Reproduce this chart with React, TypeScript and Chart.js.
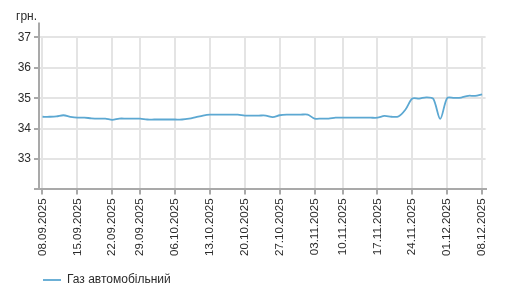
import React, { useEffect, useRef } from 'react';
import { Chart, registerables } from 'chart.js';

Chart.register(...registerables);

const dates = [
  '08.09.2025', '09.09.2025', '10.09.2025', '11.09.2025', '12.09.2025',
  '15.09.2025', '16.09.2025', '17.09.2025', '18.09.2025', '19.09.2025',
  '22.09.2025', '23.09.2025', '24.09.2025', '25.09.2025',
  '29.09.2025', '30.09.2025', '01.10.2025', '02.10.2025', '03.10.2025',
  '06.10.2025', '07.10.2025', '08.10.2025', '09.10.2025', '10.10.2025',
  '13.10.2025', '14.10.2025', '15.10.2025', '16.10.2025', '17.10.2025',
  '20.10.2025', '21.10.2025', '22.10.2025', '23.10.2025', '24.10.2025',
  '27.10.2025', '28.10.2025', '29.10.2025', '30.10.2025', '31.10.2025',
  '03.11.2025', '04.11.2025', '05.11.2025', '06.11.2025',
  '10.11.2025', '11.11.2025', '12.11.2025', '13.11.2025', '14.11.2025',
  '17.11.2025', '18.11.2025', '19.11.2025', '20.11.2025', '21.11.2025',
  '24.11.2025', '25.11.2025', '26.11.2025', '27.11.2025', '28.11.2025',
  '01.12.2025', '02.12.2025', '03.12.2025', '04.12.2025', '05.12.2025',
  '08.12.2025',
];

const prices = [
  34.39, 34.39, 34.40, 34.44, 34.39,
  34.36, 34.36, 34.34, 34.33, 34.33,
  34.29, 34.33, 34.33, 34.33,
  34.33, 34.30, 34.30, 34.30, 34.30,
  34.30, 34.30, 34.33, 34.38, 34.43,
  34.46, 34.46, 34.46, 34.46, 34.46,
  34.43, 34.43, 34.43, 34.43, 34.38,
  34.44, 34.46, 34.46, 34.46, 34.46,
  34.33, 34.33, 34.33, 34.36,
  34.36, 34.36, 34.36, 34.36, 34.36,
  34.36, 34.42, 34.39, 34.40, 34.62,
  34.99, 34.99, 35.03, 34.98, 34.32,
  35.01, 35.01, 35.02, 35.08, 35.08,
  35.13,
];

const tickDates = [
  '08.09.2025', '15.09.2025', '22.09.2025', '29.09.2025', '06.10.2025',
  '13.10.2025', '20.10.2025', '27.10.2025', '03.11.2025', '10.11.2025',
  '17.11.2025', '24.11.2025', '01.12.2025', '08.12.2025',
];

const seriesName = 'Газ автомобільний';
const unitLabel = 'грн.';
const yMin = 32;
const yMax = 37;

export default function App() {
  const ref = useRef<HTMLCanvasElement>(null);

  useEffect(() => {
    if (!ref.current) return;
    const axisColor = '#a9a9a9';
    const gridColor = '#e4e4e4';
    const textColor = '#2b2b2b';
    const fontFamily = '"Liberation Sans", Arial, sans-serif';

    const axisExtend = {
      id: 'axisExtend',
      afterDraw(chart: any) {
        const { ctx, chartArea } = chart;
        ctx.save();
        ctx.strokeStyle = axisColor;
        ctx.lineWidth = 2;
        ctx.beginPath();
        ctx.moveTo(chartArea.left, chartArea.top - 15);
        ctx.lineTo(chartArea.left, chartArea.top);
        ctx.stroke();
        ctx.restore();
      },
    };

    const legendNudge = {
      id: 'legendNudge',
      afterLayout(chart: any) {
        const l = chart.legend;
        if (l) {
          l.left += 17;
          l.right += 17;
          l.top += 4;
          l.bottom += 4;
        }
      },
    };

    const chart = new Chart(ref.current, {
      type: 'line',
      data: {
        labels: dates,
        datasets: [
          {
            label: seriesName,
            data: prices,
            borderColor: 'rgb(92,168,210)',
            backgroundColor: 'rgb(92,168,210)',
            borderWidth: 1.8,
            pointRadius: 0,
            tension: 0.3,
            fill: false,
          },
        ],
      },
      options: {
        animation: false,
        responsive: true,
        maintainAspectRatio: false,
        layout: { padding: { left: 8, right: 12, top: 0, bottom: 0 } },
        plugins: {
          title: {
            display: true,
            text: unitLabel,
            align: 'start',
            color: textColor,
            font: { family: fontFamily, size: 12, weight: 'normal' },
            padding: { top: 1, bottom: 14 },
          },
          legend: {
            position: 'bottom',
            align: 'start',
            labels: {
              usePointStyle: true,
              pointStyle: 'line',
              pointStyleWidth: 18,
              color: textColor,
              font: { family: fontFamily, size: 12 },
              padding: 10,
            },
          },
          tooltip: { enabled: false },
        },
        scales: {
          x: {
            type: 'category',
            offset: true,
            afterBuildTicks(scale: any) {
              scale.ticks = scale.ticks.filter((t: any) => tickDates.includes(dates[t.value]));
            },
            ticks: {
              autoSkip: false,
              minRotation: 90,
              maxRotation: 90,
              padding: 4,
              color: textColor,
              font: { family: fontFamily, size: 11.5 },
            },
            grid: {
              color: gridColor,
              lineWidth: 2,
              tickColor: axisColor,
              tickWidth: 2,
              tickLength: 5,
            },
            border: { color: axisColor, width: 2 },
          },
          y: {
            min: yMin,
            max: yMax,
            afterFit(scale: any) {
              scale.width = 23;
            },
            ticks: {
              stepSize: 1,
              padding: 3,
              color: textColor,
              font: { family: fontFamily, size: 12 },
              callback: (v: any) => (v === yMin ? '' : String(v)),
            },
            grid: {
              color: gridColor,
              lineWidth: 2,
              tickColor: axisColor,
              tickWidth: 2,
              tickLength: 5,
            },
            border: { color: axisColor, width: 2 },
          },
        },
      },
      plugins: [axisExtend, legendNudge],
    } as any);

    return () => chart.destroy();
  }, []);

  return (
    <div style={{ position: 'relative', width: 492, height: 284 }}>
      <canvas ref={ref} />
    </div>
  );
}
